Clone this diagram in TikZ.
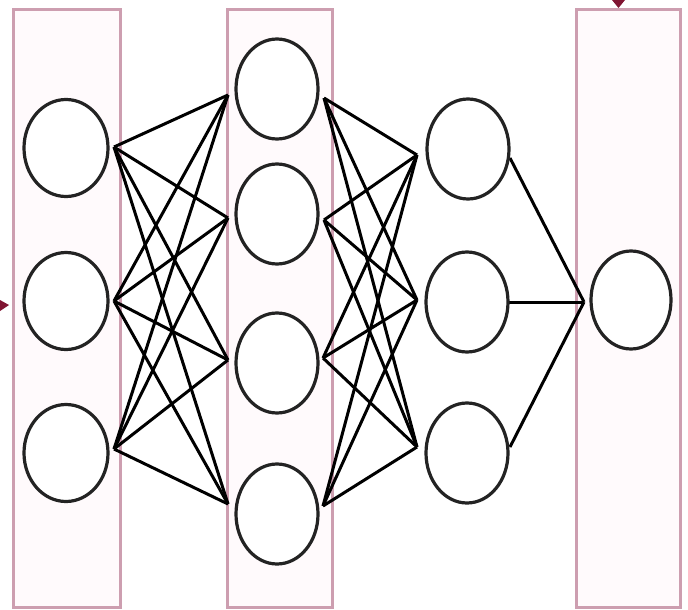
\documentclass[tikz,border=0pt]{standalone}
\usetikzlibrary{shapes.geometric}
\definecolor{boxline}{RGB}{205,158,176}
\definecolor{boxfill}{RGB}{255,250,252}
\definecolor{tipred}{RGB}{128,20,50}
\definecolor{ringgray}{RGB}{35,35,35}
\begin{document}
\begin{tikzpicture}[x=1pt,y=-1pt,
  layerbox/.style={draw=boxline,fill=boxfill,line width=3pt},
  neuron/.style={ellipse,draw=ringgray,fill=white,line width=3.2pt,inner sep=0pt},
  nsmall/.style={neuron,minimum width=84pt,minimum height=97pt},
  nbig/.style={neuron,minimum width=82pt,minimum height=100pt},
  wire/.style={draw=black,line width=3pt}]
\useasboundingbox (0,0) rectangle (688,610);
% layer boxes
\draw[layerbox] (13,10) rectangle (120,607);
\draw[layerbox] (227,10) rectangle (332,607);
\draw[layerbox] (576,10) rectangle (680,607);
% small arrow tips cut by the border
\fill[tipred] (0,300) -- (9,305) -- (0,311) -- cycle;
\fill[tipred] (612,0) -- (625,0) -- (618.5,8) -- cycle;
% junction points
\coordinate (a1o) at (114,147);
\coordinate (a2o) at (114,301);
\coordinate (a3o) at (114,449);
\coordinate (b1i) at (228,95);
\coordinate (b2i) at (228,218);
\coordinate (b3i) at (228,360);
\coordinate (b4i) at (228,504);
\coordinate (b1o) at (324,98);
\coordinate (b2o) at (324,220);
\coordinate (b3o) at (323,358);
\coordinate (b4o) at (323,506);
\coordinate (c1i) at (417,155);
\coordinate (c2i) at (417,300);
\coordinate (c3i) at (417,447);
\coordinate (c1o) at (510,158);
\coordinate (c2o) at (509,302);
\coordinate (c3o) at (510,447);
\coordinate (d1i) at (584,302);
% connectors
\foreach \s in {a1o,a2o,a3o}{
  \foreach \t in {b1i,b2i,b3i,b4i}{
    \draw[wire] (\s) -- (\t);
  }
}
\foreach \s in {b1o,b2o,b3o,b4o}{
  \foreach \t in {c1i,c2i,c3i}{
    \draw[wire] (\s) -- (\t);
  }
}
\foreach \s in {c1o,c2o,c3o}{
  \draw[wire] (\s) -- (d1i);
}
% neurons
\node[nsmall] (a1) at (66,148) {};
\node[nsmall] (a2) at (66,301) {};
\node[nsmall] (a3) at (66,453) {};
\node[nbig] (b1) at (277,89) {};
\node[nbig] (b2) at (277,214) {};
\node[nbig] (b3) at (277,363) {};
\node[nbig] (b4) at (277,514) {};
\node[nbig] (c1) at (468,149) {};
\node[nbig] (c2) at (467,302) {};
\node[nbig] (c3) at (467,453) {};
\node[neuron,minimum width=80pt,minimum height=98pt] (d1) at (631,300) {};
\end{tikzpicture}
\end{document}
